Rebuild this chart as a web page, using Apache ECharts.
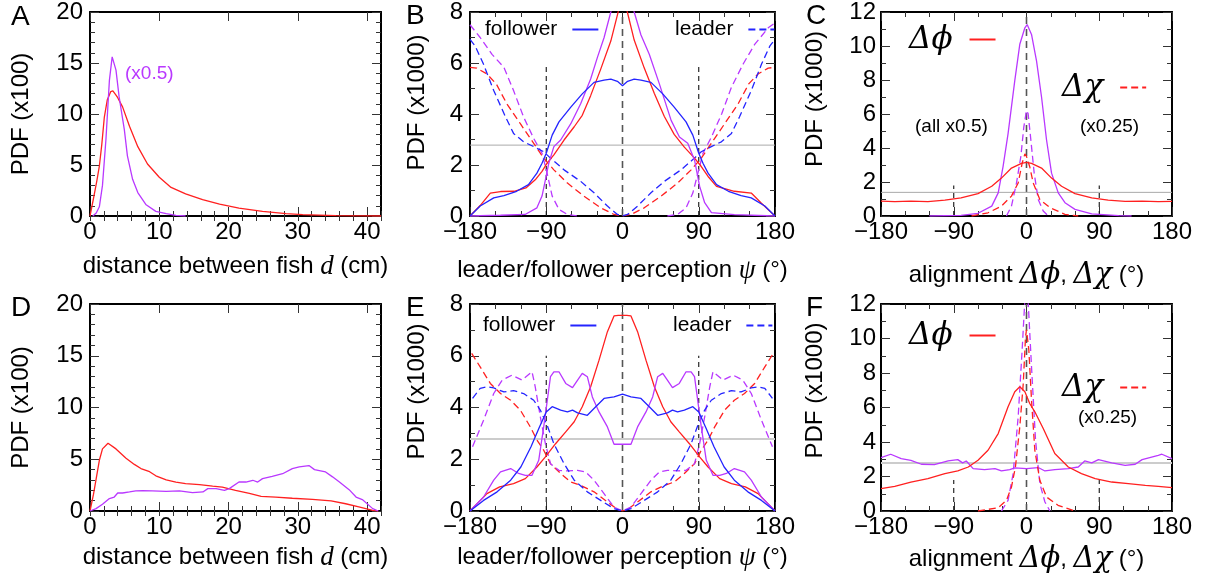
<!DOCTYPE html>
<html><head><meta charset="utf-8">
<script src="https://cdn.jsdelivr.net/npm/echarts@6/dist/echarts.min.js"></script>
<style>html,body{margin:0;padding:0;background:#fff}#c{width:1206px;height:585px}</style>
</head><body><div id="c"></div>
<script>
// ---------------- DATA ----------------
// Panel A: distance PDF (x100)
const aRed = [[0,0],[0.5,1.7],[1.0,3.5],[1.35,4.9],[1.7,7.0],[2.07,9.7],[2.5,11.4],[3.0,12.2],[3.3,12.26],[3.7,11.9],[4.0,11.6],[4.7,10.7],[5.7,8.8],[6.9,6.8],[8.3,5.1],[10,3.8],[11.7,2.8],[13.8,2.16],[16.25,1.6],[18.7,1.16],[21.5,0.77],[24.9,0.45],[28.3,0.23],[30.7,0.13],[35.5,0.03],[42,0]];
const aPurple = [[0.4,0],[0.9,0.3],[1.35,0.9],[1.8,3.0],[2.3,7.5],[2.8,13.3],[3.2,15.6],[3.75,14.3],[4.2,11.7],[4.95,8.5],[5.4,5.9],[6.15,3.6],[6.9,2.3],[8.1,1.1],[9.5,0.45],[11,0.23],[12.4,0.06],[13.8,0]];
// Panel D
const dRed = [[0,0],[0.5,1.6],[1.35,4.9],[1.8,6.0],[2.6,6.55],[3.75,6.0],[5.2,5.1],[6.4,4.5],[7.35,4.1],[8.6,3.8],[9.5,3.4],[11,3.0],[12.4,2.8],[13.8,2.65],[15.8,2.55],[17.7,2.4],[19.1,2.3],[21,2.0],[23,1.7],[24.7,1.42],[26.8,1.35],[29.2,1.23],[32.1,1.13],[34.8,0.97],[36.9,0.7],[38.8,0.4],[40.8,0.06],[41.6,0]];
const dPurple = [[0,0],[0.87,0.23],[1.8,0.65],[2.8,1.2],[3.5,1.35],[4,1.74],[4.7,1.74],[5.7,1.84],[6.6,1.94],[7.6,1.97],[9,1.94],[11,1.9],[12.9,1.94],[14.8,1.77],[16.3,1.84],[17,2.16],[18.2,2.16],[19.4,2.0],[20.1,2.16],[21.5,2.8],[22.5,2.8],[23.5,2.97],[24.2,2.8],[24.9,3.13],[26.3,3.35],[27.8,3.6],[29.2,4.1],[30.2,4.26],[31.6,4.39],[32.4,4.0],[33.1,3.9],[34,3.77],[35,3.3],[36,2.8],[37.4,2.06],[38.4,1.35],[39.3,1.1],[40.8,0.23],[41.6,0]];
// Panel B: perception PDF (x1000)
const bBlue = [[-180,0],[-168,0.39],[-152,0.71],[-140,0.8],[-125,0.97],[-111,1.23],[-101,1.68],[-95,2.07],[-90,2.46],[-83,3.17],[-75,3.69],[-61,4.27],[-47.5,4.79],[-33.6,5.24],[-21.8,5.33],[-13.8,5.37],[-6,5.28],[0,5.11],[6,5.28],[13.8,5.37],[21.8,5.33],[33.6,5.24],[47.5,4.79],[61,4.27],[75,3.69],[83,3.17],[90,2.46],[95,2.07],[101,1.68],[111,1.23],[125,0.97],[140,0.8],[152,0.71],[168,0.39],[180,0]];
const bRed = [[-180,0],[-168,0.41],[-156,0.9],[-144,0.96],[-128,0.97],[-114,1.1],[-103,1.42],[-95,1.75],[-89,2.07],[-81,2.4],[-69,2.98],[-57,3.5],[-47.5,3.95],[-37.6,4.72],[-25.7,5.76],[-13.8,6.86],[-5.9,7.9],[0,8.7],[6,7.96],[13.8,6.9],[25.7,5.8],[37.6,4.8],[49.4,3.9],[61,3.2],[73,2.7],[85,2.27],[93,1.94],[101,1.55],[111,1.16],[132,0.97],[152,0.9],[164,0.5],[180,0]];
const bPurple = [[-180,0],[-144,0.03],[-115,0.06],[-101,0.32],[-95,0.78],[-91,1.42],[-87,2.07],[-81,2.72],[-73,2.98],[-61,3.62],[-49.4,4.4],[-37.6,5.37],[-29.7,6.21],[-21.8,6.99],[-13.8,8.0],[0,9.8],[13.8,8.0],[21.8,7.1],[31.6,6.34],[43.5,5.18],[57.4,3.75],[67.2,3.1],[77,2.85],[85,2.2],[91,1.17],[97,0.52],[105,0.13],[132,0.05],[180,0]];
const bBlueDash = [[-180,6.93],[-174,6.67],[-164,5.95],[-152,4.92],[-138,3.88],[-128.6,3.24],[-116.7,2.91],[-104.8,2.72],[-93,2.52],[-85,2.27],[-69,1.81],[-49.4,1.36],[-33.6,0.91],[-17.8,0.39],[-6,0.06],[0,0],[6,0.06],[17.8,0.39],[33.6,0.91],[49.4,1.36],[69,1.81],[85,2.27],[93,2.52],[104.8,2.72],[116.7,2.91],[128.6,3.24],[138,3.88],[152,4.92],[164,5.95],[174,6.67],[180,6.93]];
const bRedDash = [[-180,5.83],[-172,5.8],[-160,5.57],[-149,5.18],[-136.5,4.4],[-120.6,3.62],[-104.8,2.85],[-93,2.27],[-81,1.81],[-65,1.29],[-45.5,0.78],[-25.7,0.32],[-10,0.06],[0,0],[10,0.06],[25.7,0.32],[45.5,0.78],[65,1.29],[81,1.81],[93,2.27],[104.8,2.85],[120.6,3.62],[136.5,4.4],[149,5.18],[160,5.57],[172,5.8],[180,5.83]];
const bPurpleDash = [[-180,7.5],[-168,7.0],[-154,6.34],[-140,5.83],[-128.6,4.92],[-116.7,3.88],[-104.8,3.04],[-95,2.46],[-89,1.68],[-83,0.78],[-75,0.26],[-65,0.06],[-53,0],[0,null],[53,0],[65,0.06],[75,0.32],[83,0.9],[89,1.68],[95,2.46],[105,3.1],[117,4.0],[128.6,5.05],[142.4,5.96],[156,6.73],[172,7.38],[180,7.57]];
// Panel E
const eBlue = [[-180,0],[-164,0.41],[-148,0.74],[-132,1.19],[-120,1.7],[-108,2.48],[-98,3.25],[-90,3.83],[-83,4.03],[-73,3.9],[-65,3.83],[-59,3.9],[-53,3.79],[-41.5,3.7],[-31.6,4.03],[-21.8,4.35],[-10,4.41],[0,4.52],[10,4.41],[21.8,4.35],[31.6,4.03],[41.5,3.7],[53,3.79],[59,3.9],[65,3.83],[73,3.9],[83,4.03],[90,3.83],[98,3.25],[108,2.48],[120,1.7],[132,1.19],[148,0.74],[164,0.41],[180,0]];
const eRed = [[-180,0],[-160,0.67],[-145,0.93],[-128.6,1.06],[-114.7,1.25],[-101,1.7],[-91,2.09],[-79,2.6],[-67,3.06],[-57,3.45],[-47.5,4.03],[-37.6,4.8],[-27.7,5.83],[-17.8,6.93],[-10,7.54],[-5,7.56],[0,7.56],[5,7.56],[10,7.54],[17.8,6.93],[27.7,5.83],[37.6,4.8],[47.5,4.03],[57,3.45],[67,3.06],[79,2.6],[91,2.09],[101,1.7],[114.7,1.25],[128.6,1.06],[145,0.93],[160,0.67],[180,0]];
const ePurple = [[-180,0],[-164,0.54],[-152,1.19],[-144,1.51],[-132,1.64],[-122.6,1.45],[-114.7,1.38],[-106.8,1.38],[-98.9,1.96],[-93,3.25],[-85,5.19],[-81,5.38],[-75,5.38],[-67,4.93],[-59,4.77],[-53,5.06],[-47.5,5.32],[-41.5,5.19],[-35.6,4.41],[-27.7,3.83],[-17.8,3.25],[-10,2.58],[-7,2.58],[7,2.58],[10,2.58],[17.8,3.25],[27.7,3.83],[35.6,4.41],[41.5,5.19],[47.5,5.32],[53,5.06],[59,4.77],[67,4.93],[75,5.38],[81,5.38],[85,5.19],[93,3.25],[98.9,1.96],[106.8,1.38],[114.7,1.38],[122.6,1.45],[132,1.64],[144,1.51],[152,1.19],[164,0.54],[180,0]];
const eBlueDash = [[-177,4.35],[-168,4.74],[-160,4.8],[-152,4.76],[-140,4.6],[-128.6,4.65],[-116.7,4.54],[-104.8,4.28],[-97,3.9],[-89,3.32],[-81,2.6],[-69,1.83],[-57,1.19],[-41.5,0.74],[-25.7,0.41],[-10,0.09],[0,0],[10,0.09],[25.7,0.41],[41.5,0.74],[57,1.19],[69,1.83],[81,2.6],[89,3.32],[97,3.9],[104.8,4.28],[116.7,4.54],[128.6,4.65],[140,4.6],[152,4.76],[160,4.8],[168,4.74],[177,4.35]];
const eRedDash = [[-178,6.09],[-168,5.57],[-156,4.93],[-144,4.54],[-132,4.28],[-120.6,3.9],[-108.8,3.25],[-101,2.74],[-93,2.35],[-85,1.83],[-73,1.45],[-61,1.12],[-49.4,0.99],[-33.6,0.74],[-17.8,0.35],[-6,0.06],[0,0],[6,0.06],[17.8,0.35],[33.6,0.74],[49.4,0.99],[61,1.12],[73,1.45],[85,1.83],[93,2.35],[101,2.74],[108.8,3.25],[120.6,3.9],[132,4.28],[144,4.54],[156,4.93],[168,5.57],[178,6.09]];
const ePurpleDash = [[-177,2.48],[-164,3.51],[-152,4.54],[-142,5.06],[-130.5,5.25],[-118.7,5.06],[-106.8,5.38],[-103,4.8],[-97,3.64],[-91,2.6],[-85,1.83],[-75,1.57],[-65,1.55],[-53,1.57],[-43.5,1.51],[-33.6,1.19],[-21.8,0.67],[-10,0.15],[0,0],[10,0.15],[21.8,0.67],[33.6,1.19],[43.5,1.51],[53,1.57],[65,1.55],[75,1.57],[85,1.83],[91,2.6],[97,3.64],[103,4.8],[106.8,5.38],[118.7,5.06],[130.5,5.25],[142,5.06],[152,4.54],[164,3.51],[177,2.48]];
// Panel C: alignment PDF (x1000)
const cRed = [[-180,0.88],[-163,0.84],[-143,0.87],[-122,0.84],[-101,0.93],[-81,1.07],[-60,1.32],[-43,1.75],[-31,2.23],[-18.6,2.82],[-6.2,3.1],[0,3.15],[6.2,3.1],[18.6,2.82],[31,2.23],[43.4,1.75],[60,1.32],[80.7,1.07],[101,0.93],[122,0.86],[143,0.87],[163,0.84],[180,0.86]];
const cRedDash = [[-68,0],[-47.6,0.19],[-31,0.58],[-18.6,1.17],[-10.3,1.94],[-5.4,3.1],[-2,3.65],[0,3.5],[4,2.9],[8.3,1.94],[16.5,0.97],[29,0.49],[47.6,0.1],[64,0]];
const cPurple = [[-120,0],[-81,0.04],[-60,0.16],[-43,0.58],[-35,1.36],[-29,2.91],[-22.8,4.85],[-14.5,7.96],[-8.3,10.1],[-2,11.07],[0.8,11.26],[6.2,10.68],[12.4,9.13],[18.6,7.0],[24.8,4.47],[31,2.52],[39.3,1.36],[47.6,0.78],[60,0.39],[80.7,0.12],[114,0.02],[130,0]];
const cPurpleDash = [[-24.8,0],[-18.6,0.58],[-12.4,1.94],[-7,3.5],[-3.3,5.24],[0,6.21],[2,6.02],[5.4,4.47],[9.5,2.52],[14.5,0.97],[20.7,0.29],[27,0]];
// Panel F
const fRed = [[-180,1.3],[-163,1.43],[-143,1.68],[-122,1.88],[-101,2.17],[-85,2.32],[-72,2.55],[-60,2.94],[-47.6,3.52],[-35,4.49],[-22.8,6.04],[-14.5,6.91],[-8.3,7.2],[-2,6.91],[4,6.23],[10.3,5.75],[20.7,4.78],[35,3.33],[51.7,2.55],[68,2.17],[85,1.88],[105.5,1.68],[126,1.59],[147,1.49],[163,1.43],[180,1.35]];
const fPurple = [[-180,3.1],[-168,3.29],[-155,3.04],[-143,2.94],[-130,2.71],[-114,2.69],[-97,2.9],[-85,2.98],[-79,2.79],[-74.5,2.9],[-66,2.46],[-52,2.4],[-39,2.46],[-31,2.32],[-20.7,2.4],[-14.5,2.5],[0,2.46],[14.5,2.52],[22.8,2.32],[35,2.4],[51.7,2.46],[64,2.55],[72,2.9],[80.7,2.79],[89,2.98],[105.5,2.79],[122,2.65],[134.5,2.71],[143,2.98],[163,3.23],[167.5,3.29],[180,3.04]];
const fRedDash = [[-60,0],[-35,0.19],[-24.8,0.62],[-18.6,1.39],[-13.7,2.55],[-8.3,4.88],[-4,7.39],[-1.2,10.1],[0,10.5],[2.9,9.33],[6.2,6.43],[10.3,3.52],[16.5,1.78],[24.8,0.81],[39,0.33],[60,0]];
const fPurpleDash = [[-31,0],[-22.8,0.62],[-16.5,2.17],[-10.3,5.46],[-5.4,9.33],[0,14],[6.2,8.36],[11.2,4.1],[16.5,1.59],[22.8,0.52],[29,0]];
// guide lines
const guideX = [-90, 0, 90];
const guideTopBE = [6, 8, 6];
const guideTopCF = [1.8, 12, 1.8];
const uniformLevel = 2.78;      // 1000/360
const uniformLevelHalf = 1.39;  // (all x0.5)
// tick labels
const distTicks = [0, 10, 20, 30, 40];

// ---------------- STYLE / BUILD ----------------
const FONT = '"Liberation Sans", Arial, Helvetica, sans-serif';
const SERIF = '"DejaVu Serif", serif';
const TIMES = '"Liberation Serif", "Times New Roman", serif';
const RED = '#ff2020', BLUE = '#2424ff', PURPLE = '#b938ff';
const DASH = [7, 4];
const TICKFONT = 24;
function fmt(v) { return v < 0 ? '\u2212' + (-v) : String(v); }
const RICH = {
  t: {fontSize: 24, fontFamily: FONT, color: '#000'},
  i: {fontSize: 27, fontFamily: TIMES, fontStyle: 'italic', color: '#000'},
  g: {fontSize: 29, fontFamily: SERIF, fontStyle: 'italic', color: '#000'}
};
const grids = [
  {left: 90, top: 9, width: 291, height: 207},
  {left: 470, top: 9, width: 305, height: 207},
  {left: 881, top: 9, width: 291, height: 207},
  {left: 90, top: 304, width: 291, height: 207},
  {left: 470, top: 304, width: 305, height: 207},
  {left: 881, top: 304, width: 291, height: 207}
];
const xAxes = [], yAxes = [], series = [];
function axisCommon(gi, min, max, interval, minor) {
  return {type: 'value', gridIndex: gi, min, max, interval, silent: true,
    axisLine: {show: true, onZero: false, lineStyle: {color: '#000', width: 2}},
    axisTick: {show: true, inside: true, length: 9, lineStyle: {color: '#333', width: 1}},
    minorTick: minor ? {show: true, splitNumber: minor, length: 5, lineStyle: {color: '#333', width: 1}} : {show: false},
    splitLine: {show: false}, minorSplitLine: {show: false}};
}
function addX(gi, s) {
  const main = axisCommon(gi, s.min, s.max, s.interval, s.minor);
  Object.assign(main, {position: 'bottom', name: s.name, nameLocation: 'middle', nameGap: s.nameGap,
    nameTextStyle: {fontSize: 24, fontFamily: FONT, color: '#000', rich: RICH},
    axisLabel: {show: true, margin: 4, fontSize: TICKFONT, fontFamily: FONT, color: '#000',
      formatter: s.labelEvery ? (v => (v % s.labelEvery === 0 ? fmt(v) : '')) : fmt}});
  if (s.tickValues) main.axisTick.customValues = s.tickValues;
  const idx = xAxes.length; xAxes.push(main);
  const top = axisCommon(gi, s.min, s.max, s.interval, s.minor);
  Object.assign(top, {position: 'top', axisLabel: {show: false}});
  if (s.tickValues) top.axisTick.customValues = s.tickValues;
  xAxes.push(top);
  if (s.minorInterval) {
    ['bottom', 'top'].forEach(pos => {
      const m = axisCommon(gi, s.min, s.max, s.minorInterval, 0);
      m.position = pos; m.axisLine = {show: false}; m.axisTick.length = 5; m.axisLabel = {show: false};
      xAxes.push(m);
    });
  }
  return idx;
}
function addY(gi, s) {
  const main = axisCommon(gi, s.min, s.max, s.interval, s.minor);
  Object.assign(main, {position: 'left', name: s.name, nameLocation: 'middle', nameGap: s.nameGap,
    nameTextStyle: {fontSize: 24, fontFamily: FONT, color: '#000', padding: [0, 0, 0, s.namePad || 0]},
    axisLabel: {show: true, margin: s.margin, fontSize: TICKFONT, fontFamily: FONT, color: '#000'}});
  const idx = yAxes.length; yAxes.push(main);
  const right = axisCommon(gi, s.min, s.max, s.interval, s.minor);
  Object.assign(right, {position: 'right', axisLabel: {show: false}});
  yAxes.push(right);
  return idx;
}
function addLine(name, data, xi, yi, color, dash, width, z) {
  series.push({type: 'line', name, data, xAxisIndex: xi, yAxisIndex: yi, symbol: 'none', showSymbol: false,
    clip: true, silent: true, animation: false, connectNulls: false, z: z || 2,
    lineStyle: {color, width: width || 1.3, type: dash || 'solid'}, itemStyle: {color}});
}
function addGuides(xi, yi, tops) {
  guideX.forEach((gx, k) => {
    const c = gx === 0;
    addLine('guide' + xi + '_' + k, [[gx, 0], [gx, tops[k]]], xi, yi, c ? '#555' : '#111', c ? [7, 5] : [5, 4], c ? 1.6 : 1.1, 1);
  });
}
function addUniform(xi, yi, level, color, w) {
  addLine('uniform' + xi, [[-180, level], [180, level]], xi, yi, color, 'solid', w, 1);
}

const distName = '{t|distance between fish }{i|d}{t| (cm)}';
const percName = '{t|leader/follower perception }{i|\u03c8}{t| (\u00b0)}';
const alignName = '{t|alignment }{g|\u0394\u03d5}{t|, }{g|\u0394\u03c7}{t| (\u00b0)}';

// A
let xi = addX(0, {min: 0, max: 42, interval: 10, minorInterval: 2, labelEvery: 10, tickValues: distTicks, name: distName, nameGap: 37});
let yi = addY(0, {min: 0, max: 20, interval: 5, minor: 5, name: 'PDF (x100)', nameGap: 57, margin: 7});
addLine('A red', aRed, xi, yi, RED);
addLine('A purple', aPurple, xi, yi, PURPLE);
// B
xi = addX(1, {min: -180, max: 180, interval: 90, minor: 3, name: percName, nameGap: 41});
yi = addY(1, {min: 0, max: 8, interval: 2, minor: 2, name: 'PDF (x1000)', nameGap: 41, margin: 7, namePad: 23});
addGuides(xi, yi, guideTopBE);
addUniform(xi, yi, uniformLevel, '#aaaaaa', 1);
addLine('B red dash', bRedDash, xi, yi, RED, DASH);
addLine('B purple dash', bPurpleDash, xi, yi, PURPLE, DASH);
addLine('leader', bBlueDash, xi, yi, BLUE, DASH);
addLine('B red', bRed, xi, yi, RED);
addLine('B purple', bPurple, xi, yi, PURPLE);
addLine('follower', bBlue, xi, yi, BLUE);
// C
xi = addX(2, {min: -180, max: 180, interval: 90, minor: 3, name: alignName, nameGap: 45});
yi = addY(2, {min: 0, max: 12, interval: 2, minor: 2, name: 'PDF (x1000)', nameGap: 54, margin: 5, namePad: 30});
addGuides(xi, yi, guideTopCF);
addUniform(xi, yi, uniformLevelHalf, '#aaaaaa', 1);
addLine('C purple', cPurple, xi, yi, PURPLE);
addLine('C purple dash', cPurpleDash, xi, yi, PURPLE, DASH);
addLine('\u0394\u03c7', cRedDash, xi, yi, RED, DASH);
addLine('\u0394\u03d5', cRed, xi, yi, RED);
// D
xi = addX(3, {min: 0, max: 42, interval: 10, minorInterval: 2, labelEvery: 10, tickValues: distTicks, name: distName, nameGap: 33});
yi = addY(3, {min: 0, max: 20, interval: 5, minor: 5, name: 'PDF (x100)', nameGap: 57, margin: 7});
addLine('D red', dRed, xi, yi, RED);
addLine('D purple', dPurple, xi, yi, PURPLE);
// E
xi = addX(4, {min: -180, max: 180, interval: 90, minor: 3, name: percName, nameGap: 33});
yi = addY(4, {min: 0, max: 8, interval: 2, minor: 2, name: 'PDF (x1000)', nameGap: 41, margin: 7, namePad: 32});
addGuides(xi, yi, guideTopBE);
addUniform(xi, yi, uniformLevel, '#cccccc', 2);
addLine('E red dash', eRedDash, xi, yi, RED, DASH);
addLine('E purple dash', ePurpleDash, xi, yi, PURPLE, DASH);
addLine('leader', eBlueDash, xi, yi, BLUE, DASH);
addLine('E red', eRed, xi, yi, RED);
addLine('E purple', ePurple, xi, yi, PURPLE);
addLine('follower', eBlue, xi, yi, BLUE);
// F
xi = addX(5, {min: -180, max: 180, interval: 90, minor: 3, name: alignName, nameGap: 34});
yi = addY(5, {min: 0, max: 12, interval: 2, minor: 2, name: 'PDF (x1000)', nameGap: 54, margin: 5, namePad: 34});
addGuides(xi, yi, guideTopCF);
addUniform(xi, yi, uniformLevel, '#cccccc', 2);
addLine('F purple', fPurple, xi, yi, PURPLE);
addLine('F purple dash', fPurpleDash, xi, yi, PURPLE, DASH);
addLine('\u0394\u03c7', fRedDash, xi, yi, RED, DASH);
addLine('\u0394\u03d5', fRed, xi, yi, RED);

function leg(name, left, top, big) {
  return {show: true, data: [name], left, top, padding: 0, itemWidth: 26, itemHeight: 10, align: 'right',
    selectedMode: false, orient: 'horizontal',
    itemStyle: {opacity: 0, borderWidth: 0},
    formatter: big ? '{g|{name}}' : '{name}',
    textStyle: big ? {color: '#000', padding: [0, 12, 0, 0], rich: {g: {fontFamily: SERIF, fontStyle: 'italic', fontSize: 31, color: '#000'}}}
                   : {fontSize: 21, fontFamily: FONT, color: '#000', padding: [0, 10, 0, 0]}};
}
const legends = [
  leg('follower', 485, 19), leg('leader', 675, 19),
  leg('follower', 483, 315), leg('leader', 673, 315),
  leg('\u0394\u03d5', 909, 24, true), leg('\u0394\u03c7', 1062, 72, true),
  leg('\u0394\u03d5', 909, 320, true), leg('\u0394\u03c7', 1062, 372, true)
];
function txt(s, x, y, size, color) {
  return {type: 'text', x, y, silent: true, style: {text: s, fontSize: size, fontFamily: FONT, fill: color || '#000', align: 'left', verticalAlign: 'middle'}};
}
const graphics = [
  txt('A', 11, 17, 28), txt('B', 406, 16, 28), txt('C', 806, 16, 28),
  txt('D', 11, 308, 28), txt('E', 406, 308, 28), txt('F', 806, 308, 28),
  txt('(x0.5)', 125, 74, 19, PURPLE),
  txt('(all x0.5)', 915, 127, 19), txt('(x0.25)', 1080, 127, 19),
  txt('(x0.25)', 1078, 418, 19)
];

const chart = echarts.init(document.getElementById('c'), null, {renderer: 'canvas'});
chart.setOption({
  animation: false, backgroundColor: '#fff',
  grid: grids, xAxis: xAxes, yAxis: yAxes, series, legend: legends, graphic: graphics
});
</script></body></html>
